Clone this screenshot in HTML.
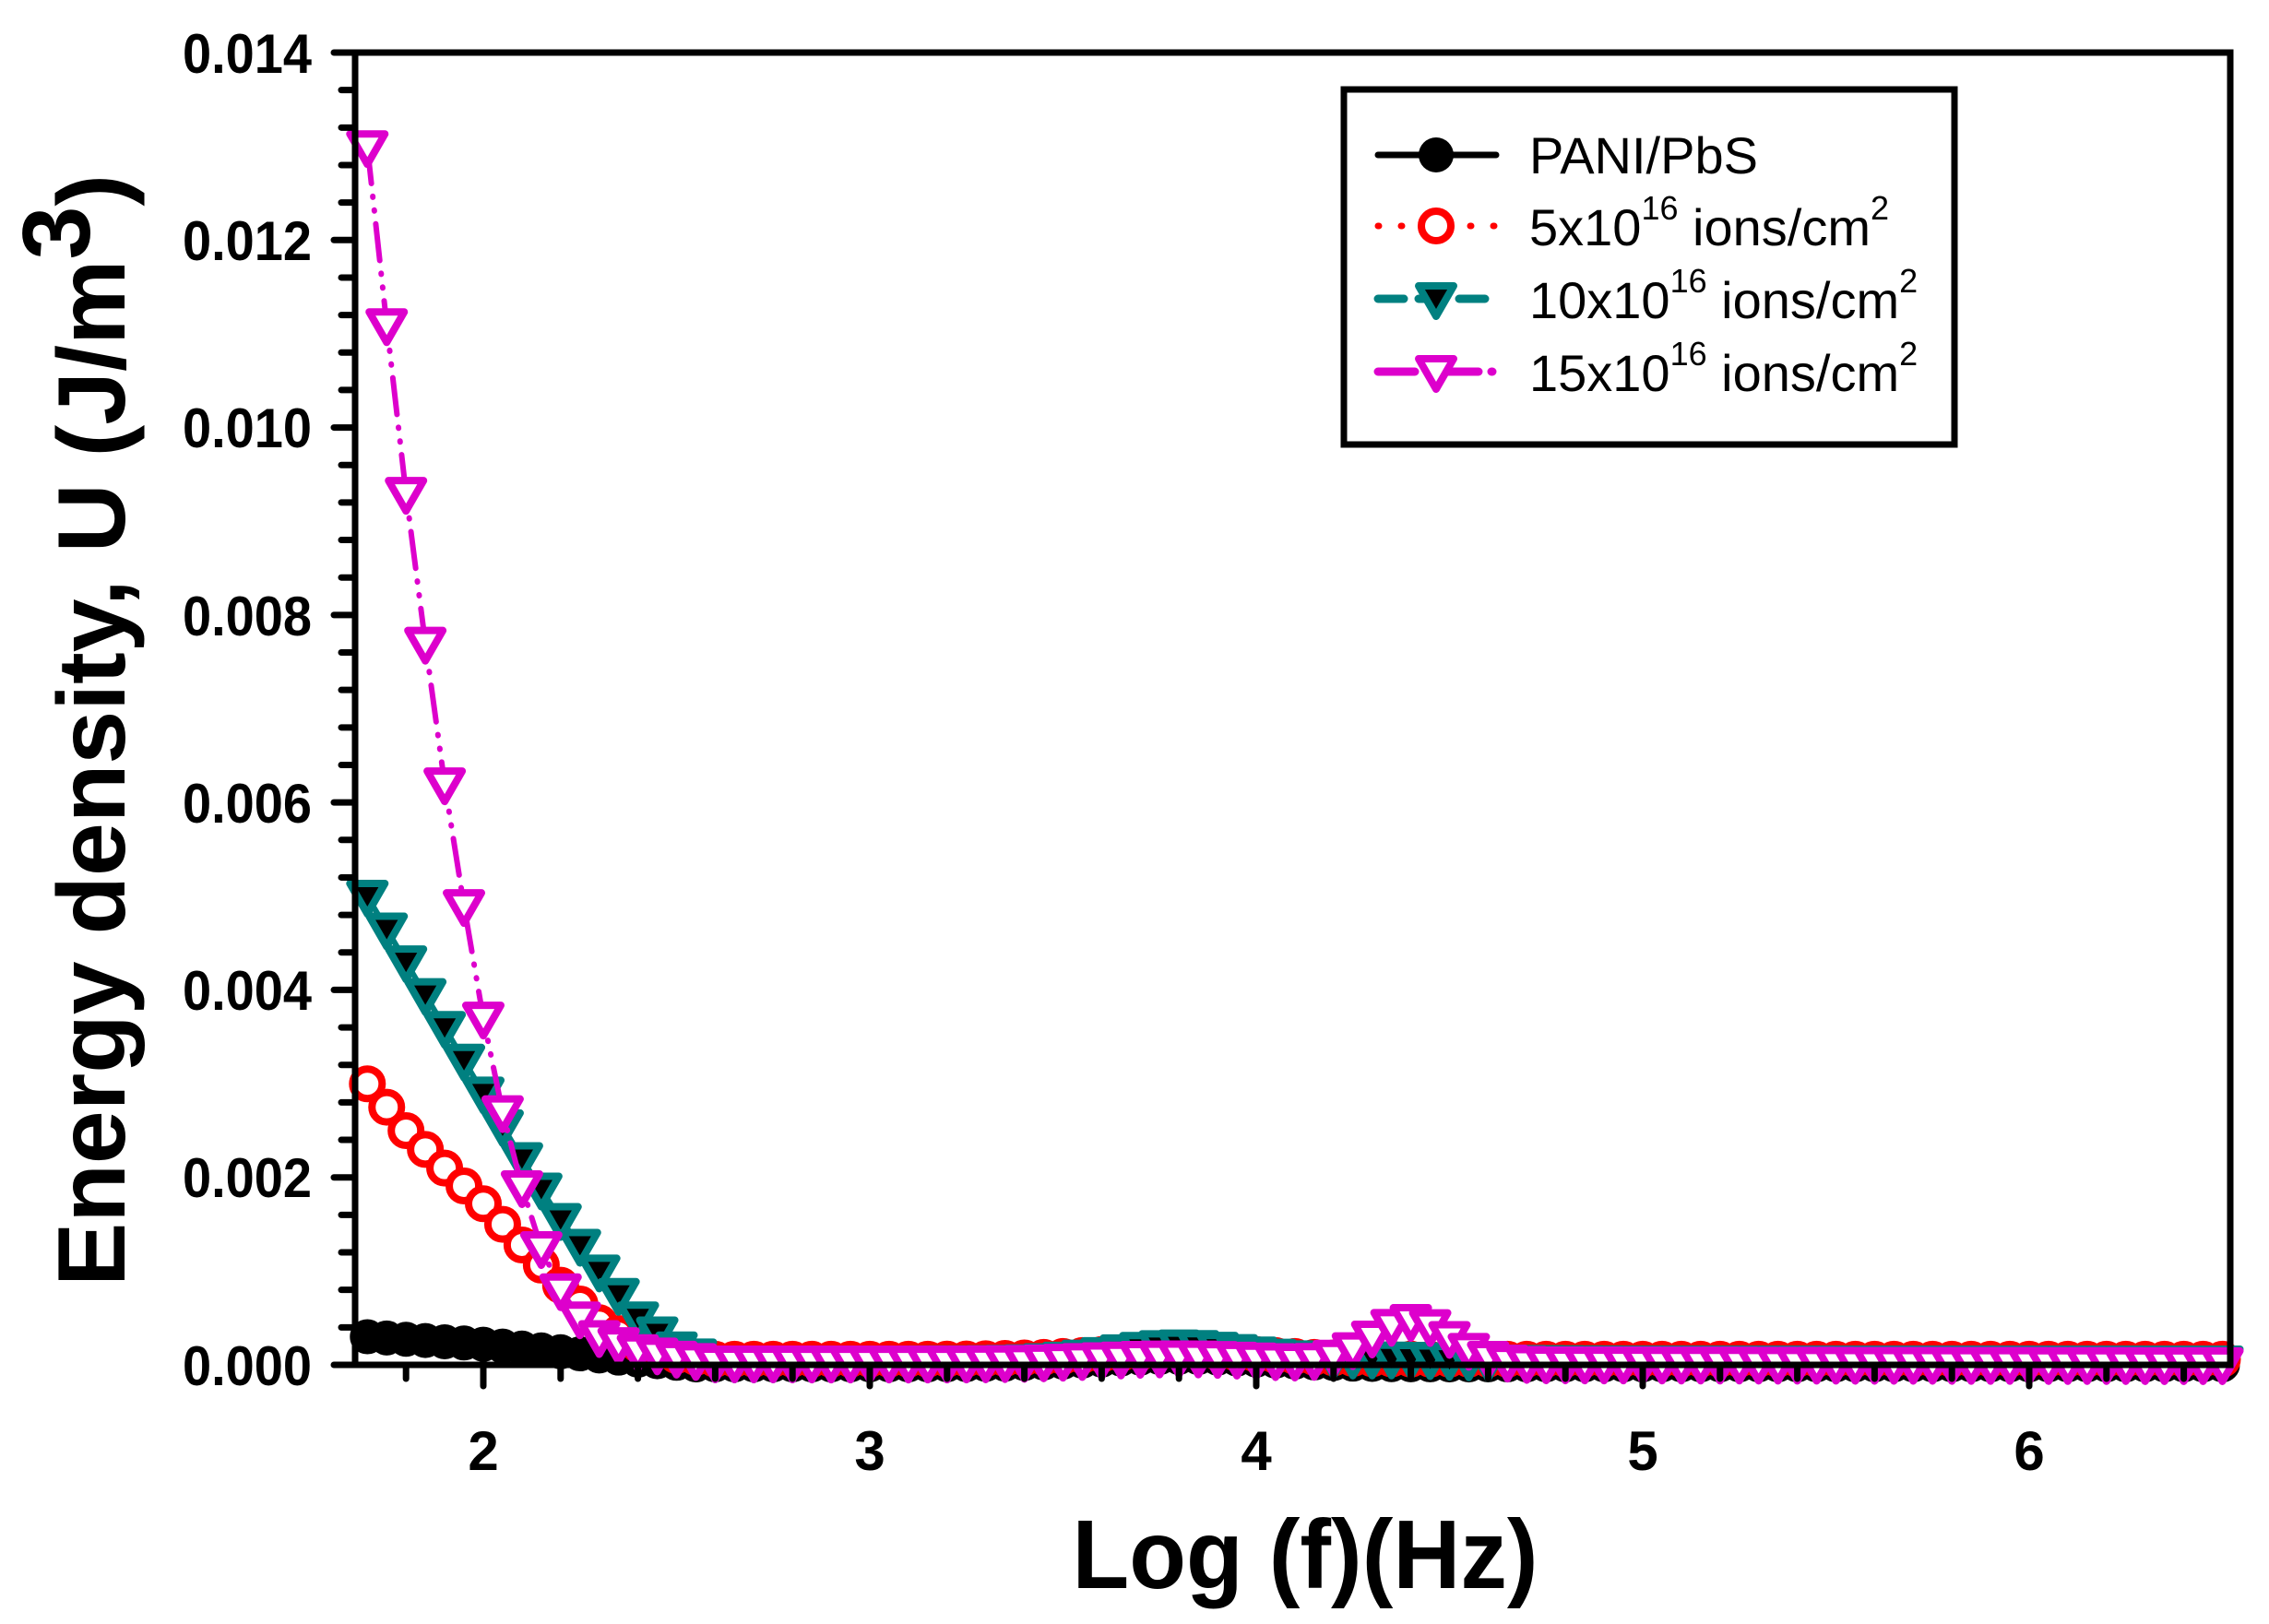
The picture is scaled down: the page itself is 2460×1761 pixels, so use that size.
<!DOCTYPE html>
<html><head><meta charset="utf-8"><style>
html,body{margin:0;padding:0;background:#fff;}
svg{display:block;}
text{font-family:"Liberation Sans",Arial,sans-serif;}
</style></head><body>
<svg id="s" width="2460" height="1761" viewBox="0 0 2460 1761" xmlns="http://www.w3.org/2000/svg">
<rect width="2460" height="1761" fill="#fff"/>
<g id="data"></g>
<rect x="385" y="57" width="2033" height="1423" fill="none" stroke="#000" stroke-width="7"/>
<g id="ticks" stroke="#000" stroke-width="7" stroke-linecap="round"></g>
<g font-weight="bold" font-size="60" text-anchor="end">
<text x="338" y="79" textLength="140" lengthAdjust="spacingAndGlyphs">0.014</text>
<text x="338" y="282" textLength="140" lengthAdjust="spacingAndGlyphs">0.012</text>
<text x="338" y="485" textLength="140" lengthAdjust="spacingAndGlyphs">0.010</text>
<text x="338" y="689" textLength="140" lengthAdjust="spacingAndGlyphs">0.008</text>
<text x="338" y="892" textLength="140" lengthAdjust="spacingAndGlyphs">0.006</text>
<text x="338" y="1095" textLength="140" lengthAdjust="spacingAndGlyphs">0.004</text>
<text x="338" y="1298" textLength="140" lengthAdjust="spacingAndGlyphs">0.002</text>
<text x="338" y="1502" textLength="140" lengthAdjust="spacingAndGlyphs">0.000</text>
</g>
<g font-weight="bold" font-size="60" text-anchor="middle">
<text x="524" y="1594">2</text>
<text x="943" y="1594">3</text>
<text x="1362" y="1594">4</text>
<text x="1781" y="1594">5</text>
<text x="2200" y="1594">6</text>
</g>
<text x="1415" y="1722" font-weight="bold" font-size="106" text-anchor="middle" textLength="505" lengthAdjust="spacingAndGlyphs">Log (f)(Hz)</text>
<text transform="translate(135,792) rotate(-90)" font-weight="bold" font-size="104" text-anchor="middle">Energy density, U (J/m<tspan dy="-38">3</tspan><tspan dy="38">)</tspan></text>
<rect x="1457" y="97" width="662" height="385" fill="#fff" stroke="#000" stroke-width="7"/>
<g id="leg"></g>
<g font-size="56">
<text x="1658" y="188">PANI/PbS</text>
<text x="1658" y="266">5x10<tspan font-size="36" dy="-28">16</tspan><tspan dy="28"> ions/cm</tspan><tspan font-size="36" dy="-28">2</tspan></text>
<text x="1658" y="345">10x10<tspan font-size="36" dy="-28">16</tspan><tspan dy="28"> ions/cm</tspan><tspan font-size="36" dy="-28">2</tspan></text>
<text x="1658" y="424">15x10<tspan font-size="36" dy="-28">16</tspan><tspan dy="28"> ions/cm</tspan><tspan font-size="36" dy="-28">2</tspan></text>
</g>
</svg>
<script>
var NS="http://www.w3.org/2000/svg";
function X(v){return 524+(v-2)*419;}
function Y(v){return 1480-v*101.6e3;}
function el(p,n,a){var e=document.createElementNS(NS,n);for(var k in a)e.setAttribute(k,a[k]);p.appendChild(e);return e;}
var tk=document.getElementById('ticks');
for(var i=0;i<=35;i++){var y=1480-i*1423/35;var maj=(i%5==0);el(tk,'line',{x1:385,y1:y,x2:maj?362:370,y2:y});}
for(var v=1.8;v<=6.5;v+=0.2){var x=X(v);var maj=Math.abs(v-Math.round(v))<0.01;el(tk,'line',{x1:x,y1:1480,x2:x,y2:maj?1503:1495});}
function interp(pts,x){if(x<=pts[0][0])return pts[0][1];for(var i=1;i<pts.length;i++){if(x<=pts[i][0]){var a=pts[i-1],b=pts[i];return a[1]+(b[1]-a[1])*(x-a[0])/(b[0]-a[0]);}}return pts[pts.length-1][1];}
function g(x,c,w,h){return h*Math.exp(-Math.pow((x-c)/w,2));}
var xs=[];for(var x=1.7;x<=6.52;x+=0.05)xs.push(x);
var black=xs.map(function(x){return interp([[1.7,0.00030],[2.0,0.00022],[2.2,0.00014],[2.4,0.00005],[2.55,0.0],[6.6,0]],x)+g(x,3.8,0.3,0.00008);});
var red=xs.map(function(x){return interp([[1.7,0.0030],[1.8,0.0025],[1.9,0.0021],[2.0,0.00172],[2.1,0.00128],[2.2,0.00085],[2.3,0.00045],[2.4,0.00022],[2.5,0.0001],[2.6,0.00006],[6.6,0.00006]],x)+g(x,3.8,0.3,0.00008);});
var teal=xs.map(function(x){return interp([[1.7,0.0050],[1.8,0.0043],[1.9,0.0036],[2.0,0.0029],[2.1,0.0022],[2.2,0.00155],[2.3,0.0010],[2.4,0.0005],[2.5,0.00018],[2.6,0.00003],[6.6,0.00003]],x)+g(x,3.8,0.25,0.00017)+g(x,4.35,0.25,0.00004);});
var pink=xs.map(function(x){return interp([[1.7,0.0130],[1.75,0.0111],[1.8,0.0093],[1.85,0.0077],[1.9,0.0062],[1.95,0.0049],[2.0,0.0037],[2.05,0.0027],[2.1,0.0019],[2.15,0.00125],[2.2,0.0008],[2.25,0.0005],[2.3,0.0003],[2.4,0.00015],[2.5,0.00008],[2.6,0.00003],[6.6,0.00001]],x)+g(x,4.4,0.14,0.00045)+g(x,3.8,0.3,0.00006);});
var D=document.getElementById('data');
function tri(p,cx,cy,fill,stroke){el(p,'polygon',{points:(cx-19)+','+(cy-14)+' '+(cx+19)+','+(cy-14)+' '+cx+','+(cy+19),fill:fill,stroke:stroke,'stroke-width':8,'stroke-linejoin':'round'});}
function series(vals,color,dash,mk){
 var pts=xs.map(function(x,i){return X(x).toFixed(1)+','+Y(vals[i]).toFixed(1);}).join(' ');
 el(D,'polyline',{points:pts,fill:'none',stroke:color,'stroke-width':6,'stroke-dasharray':dash,'stroke-linecap':'round'});
 xs.forEach(function(x,i){var cx=X(x),cy=Y(vals[i]);
  if(mk=='fc')el(D,'circle',{cx:cx,cy:cy,r:17,fill:'#000',stroke:'#000','stroke-width':4});
  else if(mk=='oc')el(D,'circle',{cx:cx,cy:cy,r:16,fill:'#fff',stroke:color,'stroke-width':8});
  else if(mk=='ft')tri(D,cx,cy,'#000',color);
  else tri(D,cx,cy,'#fff',color);});
}
series(black,'#000','','fc');
series(red,'#ff0000','1 14','oc');
series(teal,'#008080','28 14','ft');
series(pink,'#dd00cc','40 14 1 14 1 14','ot');
var L=document.getElementById('leg');
var ly=[168,245,324,403];
el(L,'line',{x1:1494,y1:ly[0],x2:1622,y2:ly[0],stroke:'#000','stroke-width':7,'stroke-linecap':'round'});
el(L,'circle',{cx:1557,cy:ly[0],r:19,fill:'#000'});
el(L,'line',{x1:1494,y1:ly[1],x2:1622,y2:ly[1],stroke:'#ff0000','stroke-width':7,'stroke-linecap':'round','stroke-dasharray':'1 24'});
el(L,'circle',{cx:1557,cy:ly[1],r:16,fill:'#fff',stroke:'#ff0000','stroke-width':8});
el(L,'line',{x1:1494,y1:ly[2],x2:1622,y2:ly[2],stroke:'#008080','stroke-width':9,'stroke-linecap':'round','stroke-dasharray':'28 16'});
tri(L,1557,ly[2],'#000','#008080');
el(L,'line',{x1:1494,y1:ly[3],x2:1622,y2:ly[3],stroke:'#dd00cc','stroke-width':9,'stroke-linecap':'round','stroke-dasharray':'40 14 1 14'});
tri(L,1557,ly[3],'#fff','#dd00cc');
</script>
</body></html>
